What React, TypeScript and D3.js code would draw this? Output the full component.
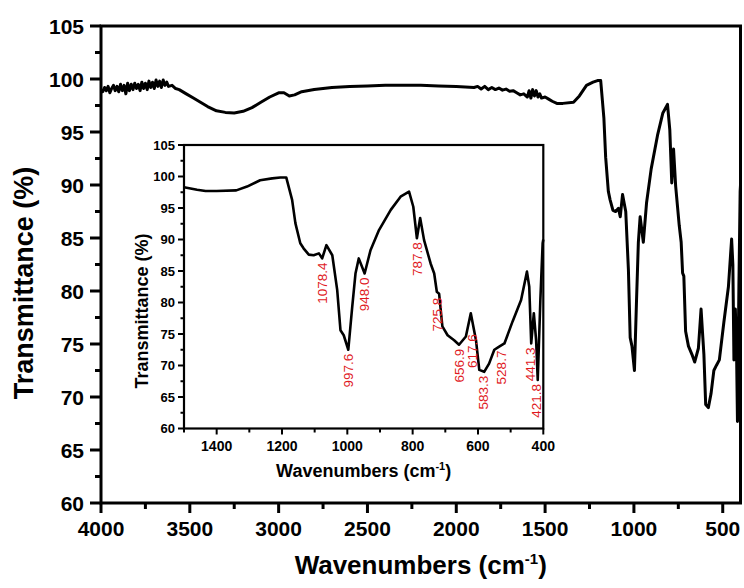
import React from "react";
import * as d3 from "d3";

// FTIR spectrum (cm-1 descending)
const wavenumber = [
  4000, 3990, 3980, 3970, 3960, 3950, 3940, 3930, 3920, 3910, 3900, 3890, 3880, 3870, 3860,
  3850, 3840, 3830, 3820, 3810, 3800, 3790, 3780, 3770, 3760, 3750, 3740, 3730, 3720, 3710,
  3700, 3690, 3680, 3670, 3660, 3650, 3640, 3630, 3620, 3600, 3580, 3560, 3520, 3480, 3440,
  3400, 3350, 3300, 3250, 3200, 3150, 3100, 3050, 3000, 2970, 2940, 2910, 2870, 2800, 2700,
  2600, 2500, 2400, 2300, 2200, 2100, 2000, 1950, 1900, 1880, 1860, 1840, 1820, 1800, 1780,
  1760, 1740, 1720, 1700, 1680, 1660, 1640, 1620, 1600, 1590, 1580, 1570, 1560, 1550, 1540,
  1530, 1520, 1500, 1480, 1460, 1434, 1400, 1340, 1307, 1267, 1230, 1205, 1187, 1169, 1159,
  1144, 1134, 1118, 1103, 1087, 1077, 1064, 1046, 1031, 1021, 1011, 997, 985, 975, 965,
  947, 929, 903, 867, 837, 811, 798, 787, 777, 765, 745, 734, 726, 719, 709,
  693, 673, 658, 637, 622, 612, 606, 596, 581, 566, 550, 535, 519, 494, 468,
  450, 443, 437, 429, 422, 417, 409, 402, 400,
];
const transmittance = [
  99.0, 98.8, 99.2, 98.9, 99.3, 98.7, 99.1, 99.4, 98.9, 99.3, 98.8, 99.5, 98.9, 99.4, 98.6,
  99.6, 98.9, 99.5, 99.0, 99.6, 99.1, 99.5, 98.9, 99.7, 99.1, 99.6, 99.0, 99.8, 99.2, 99.7,
  99.1, 99.9, 99.3, 99.8, 99.2, 99.9, 99.4, 99.7, 99.3, 99.4, 99.1, 99.0, 98.6, 98.2, 97.8,
  97.4, 97.0, 96.85, 96.8, 96.95, 97.3, 97.8, 98.3, 98.7, 98.7, 98.4, 98.5, 98.8, 99.0, 99.2,
  99.3, 99.35, 99.4, 99.4, 99.4, 99.35, 99.3, 99.25, 99.2, 99.3, 99.05, 99.3, 99.0, 99.2, 99.0,
  99.15, 98.95, 99.05, 98.85, 98.9, 98.7, 98.5, 98.6, 98.3, 98.9, 98.2, 99.0, 98.4, 98.9, 98.3,
  98.6, 98.2, 98.3, 98.1, 97.9, 97.7, 97.7, 97.8, 98.4, 99.4, 99.7, 99.85, 99.85, 96.3, 92.6,
  89.4, 88.6, 87.6, 87.5, 87.8, 87.0, 89.1, 87.5, 82.0, 75.6, 74.8, 72.5, 79.3, 84.6, 87.0,
  84.6, 88.3, 91.5, 94.7, 96.8, 97.6, 95.2, 90.2, 93.4, 89.9, 86.2, 84.6, 81.7, 81.4, 76.2,
  74.8, 74.0, 73.3, 74.6, 78.3, 75.6, 74.0, 69.3, 69.0, 70.3, 72.5, 73.0, 73.5, 77.0, 80.4,
  84.9, 82.5, 73.5, 78.3, 74.0, 67.7, 80.4, 89.4, 90.0,
];

const mainXTicks = [4000, 3500, 3000, 2500, 2000, 1500, 1000, 500];
const mainXMinor = [3750, 3250, 2750, 2250, 1750, 1250, 750];
const mainYTicks = [60, 65, 70, 75, 80, 85, 90, 95, 100, 105];
const mainYMinor = [62.5, 67.5, 72.5, 77.5, 82.5, 87.5, 92.5, 97.5, 102.5];
const insetXTicks = [1400, 1200, 1000, 800, 600, 400];
const insetXMinor = [1500, 1300, 1100, 900, 700, 500];
const insetYTicks = [60, 65, 70, 75, 80, 85, 90, 95, 100, 105];
const insetYMinor = [62.5, 67.5, 72.5, 77.5, 82.5, 87.5, 92.5, 97.5, 102.5];

const peakLabels = ["1078.4", "997.6", "948.0", "787.8", "725.8", "656.9", "617.6", "583.3", "528.7", "441.3", "421.8"];

const FONT = "'Liberation Sans', Arial, sans-serif";

export default function App() {
  const pts = wavenumber.map((w, i) => ({ w, t: transmittance[i] }));

  const x = d3.scaleLinear().domain([4000, 400]).range([101, 740.5]);
  const y = d3.scaleLinear().domain([60, 105]).range([503, 26]);

  const xi = d3.scaleLinear().domain([1500, 400]).range([184, 543.3]);
  const yi = d3.scaleLinear().domain([60, 105]).range([428.5, 145]);

  const mainLine = d3.line<any>().x((d) => x(d.w)).y((d) => y(d.t))(pts) || "";
  const insetLine = d3.line<any>().x((d) => xi(d.w)).y((d) => yi(d.t))(pts.filter((d) => d.w <= 1500)) || "";

  // label sits just under the local minimum of the curve
  const labelTop = (wn: number) => {
    const near = pts.filter((d) => Math.abs(d.w - wn) <= 8);
    const m = d3.min(near, (d) => d.t) ?? 80;
    return yi(m) + 4;
  };

  const [x0, x1] = x.range();
  const [y0, y1] = y.range();
  const [ix0, ix1] = xi.range();
  const [iy0, iy1] = yi.range();

  return (
    <svg width={744} height={588} style={{ position: "absolute", left: 0, top: 0, background: "#fff" }} fontFamily={FONT}>
      {/* main frame */}
      <rect x={x0} y={y1} width={x1 - x0} height={y0 - y1} fill="#fff" stroke="#000" strokeWidth={3} />
      {mainYTicks.map((t) => (
        <g key={"my" + t}>
          <line x1={x0 - 11} x2={x0} y1={y(t)} y2={y(t)} stroke="#000" strokeWidth={3} />
          <text x={x0 - 17} y={y(t)} dy="0.36em" textAnchor="end" fontSize={21} fontWeight="bold">{t}</text>
        </g>
      ))}
      {mainYMinor.map((t) => (
        <line key={"mym" + t} x1={x0 - 6} x2={x0} y1={y(t)} y2={y(t)} stroke="#000" strokeWidth={3} />
      ))}
      {mainXTicks.map((t) => (
        <g key={"mx" + t}>
          <line x1={x(t)} x2={x(t)} y1={y0} y2={y0 + 10} stroke="#000" strokeWidth={3} />
          <text x={x(t)} y={536} textAnchor="middle" fontSize={21} fontWeight="bold">{t}</text>
        </g>
      ))}
      {mainXMinor.map((t) => (
        <line key={"mxm" + t} x1={x(t)} x2={x(t)} y1={y0} y2={y0 + 6} stroke="#000" strokeWidth={3} />
      ))}
      <path d={mainLine} fill="none" stroke="#000" strokeWidth={3} strokeLinejoin="round" />

      <text x={(x0 + x1) / 2} y={574} textAnchor="middle" fontSize={26} fontWeight="bold">
        Wavenumbers (cm<tspan dy={-10} fontSize={15}>-1</tspan><tspan dy={10}>)</tspan>
      </text>
      <text transform="translate(33,283) rotate(-90)" textAnchor="middle" fontSize={27} fontWeight="bold">
        Transmittance (%)
      </text>

      {/* inset */}
      <rect x={ix0} y={iy1} width={ix1 - ix0} height={iy0 - iy1} fill="#fff" stroke="#000" strokeWidth={2.2} />
      {insetYTicks.map((t) => (
        <g key={"iy" + t}>
          <line x1={ix0 - 6} x2={ix0} y1={yi(t)} y2={yi(t)} stroke="#000" strokeWidth={2} />
          <text x={ix0 - 9} y={yi(t)} dy="0.36em" textAnchor="end" fontSize={13} fontWeight="bold">{t}</text>
        </g>
      ))}
      {insetYMinor.map((t) => (
        <line key={"iym" + t} x1={ix0 - 3.5} x2={ix0} y1={yi(t)} y2={yi(t)} stroke="#000" strokeWidth={2} />
      ))}
      {insetXTicks.map((t) => (
        <g key={"ix" + t}>
          <line x1={xi(t)} x2={xi(t)} y1={iy0} y2={iy0 + 6} stroke="#000" strokeWidth={2} />
          <text x={xi(t)} y={451} textAnchor="middle" fontSize={14} fontWeight="bold">{t}</text>
        </g>
      ))}
      {insetXMinor.map((t) => (
        <line key={"ixm" + t} x1={xi(t)} x2={xi(t)} y1={iy0} y2={iy0 + 4} stroke="#000" strokeWidth={2} />
      ))}
      <path d={insetLine} fill="none" stroke="#000" strokeWidth={2.6} strokeLinejoin="round" />

      {peakLabels.map((lab) => {
        const wn = +lab;
        return (
          <text key={lab} transform={`translate(${xi(wn)},${labelTop(wn)}) rotate(-90)`} dy="0.36em"
            textAnchor="end" fontSize={13.5} fill="#e0191e">
            {lab}
          </text>
        );
      })}

      <text x={(ix0 + ix1) / 2} y={477} textAnchor="middle" fontSize={18} fontWeight="bold">
        Wavenumbers (cm<tspan dy={-7} fontSize={11}>-1</tspan><tspan dy={7}>)</tspan>
      </text>
      <text transform="translate(148,311) rotate(-90)" textAnchor="middle" fontSize={18} fontWeight="bold">
        Transmittance (%)
      </text>
    </svg>
  );
}
